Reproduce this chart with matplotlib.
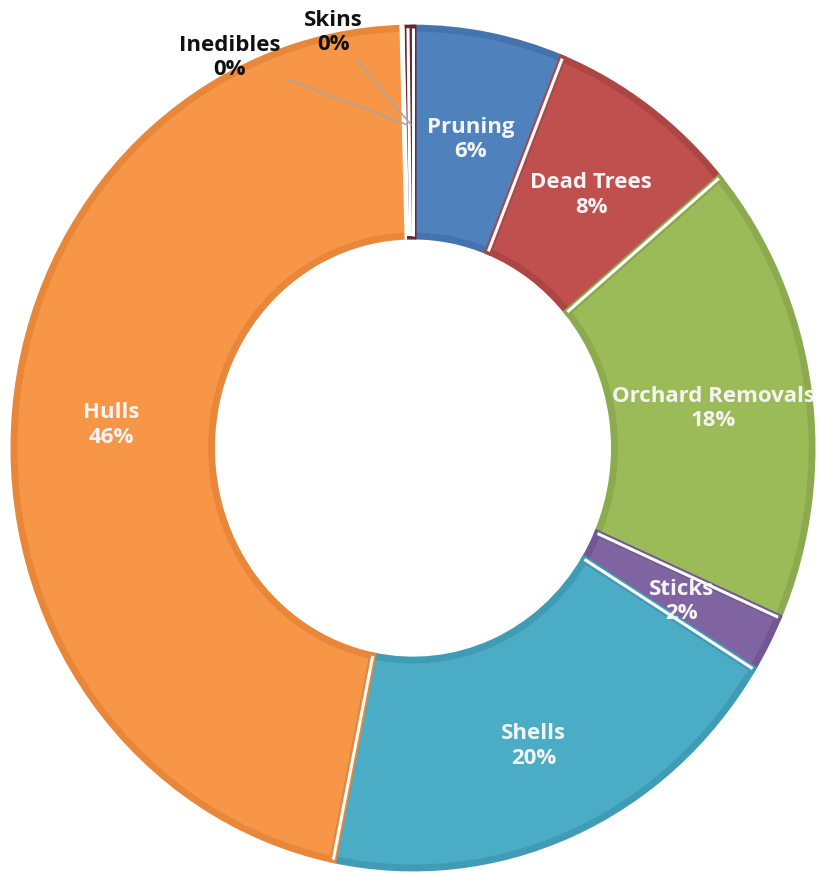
import numpy as np
import matplotlib
matplotlib.use("Agg")
import matplotlib.pyplot as plt

# Data (share of orchard biomass)
categories = ["Pruning", "Dead Trees", "Orchard Removals", "Sticks",
              "Shells", "Hulls", "Inedibles", "Skins"]
values = [6.1, 7.8, 17.7, 2.2, 19.4, 46.4, 0.2, 0.2]
pct_labels = ["6%", "8%", "18%", "2%", "20%", "46%", "0%", "0%"]

colors = ["#4F81BD", "#C0504D", "#9BBB59", "#8064A2",
          "#4BACC6", "#F79646", "#FFFFFF", "#6A2630"]
rims = ["#4473AD", "#AD4542", "#8BAB4E", "#725794",
        "#409CB5", "#E8873A", "#FFFFFF", "#6A2630"]

plt.rcParams["font.family"] = ["Open Sans", "DejaVu Sans"]

fig = plt.figure(figsize=(8.2, 8.73), dpi=100)
ax = fig.add_axes([0, 0, 1, 1])

ring = dict(startangle=90, counterclock=False, radius=1.0)
hole = 0.505

# filled slices
wedges, _ = ax.pie(values, colors=colors,
                   wedgeprops=dict(width=1 - hole, linewidth=0), **ring)

# darker rim inside each slice (outline clipped to the slice itself)
rim_w, _ = ax.pie(values, colors=colors,
                  wedgeprops=dict(width=1 - hole, linewidth=5.0, fill=False),
                  **ring)
for rw, w, rc in zip(rim_w, wedges, rims):
    rw.set_edgecolor(rc)
    rw.set_clip_path(w)

# white gaps along the radial edges between slices
for w in wedges:
    t = np.deg2rad(w.theta1)
    ax.plot([hole * np.cos(t), np.cos(t)], [hole * np.sin(t), np.sin(t)],
            color="white", lw=2.2, solid_capstyle="butt")

# stretched like the reference picture
ax.set_aspect("auto")
ax.set_xlim(-1.035, 1.020)
ax.set_ylim(-1.012, 1.067)
ax.axis("off")

# labels inside the ring
for w, name, pct in zip(wedges[:6], categories[:6], pct_labels[:6]):
    mid = np.deg2rad((w.theta1 + w.theta2) / 2)
    ax.text(0.76 * np.cos(mid), 0.76 * np.sin(mid) - 0.012, f"{name}\n{pct}",
            ha="center", va="center", color="#f4f4f4", fontsize=16,
            fontweight="bold", linespacing=1.2, clip_on=False)

# tiny slices get outside labels with leader lines
outside_pos = [(-0.46, 0.93), (-0.20, 0.99)]
for w, name, pct, pos in zip(wedges[6:], categories[6:], pct_labels[6:],
                             outside_pos):
    mid = np.deg2rad((w.theta1 + w.theta2) / 2)
    ax.annotate(f"{name}\n{pct}", xy=(0.77 * np.cos(mid), 0.77 * np.sin(mid)),
                xytext=pos, ha="center", va="center", color="#111111",
                fontsize=16, fontweight="bold", linespacing=1.2,
                arrowprops=dict(arrowstyle="-", color="#a6a6a6", lw=1.2,
                                shrinkA=2, shrinkB=0))

fig.savefig("out.png", dpi=100)
